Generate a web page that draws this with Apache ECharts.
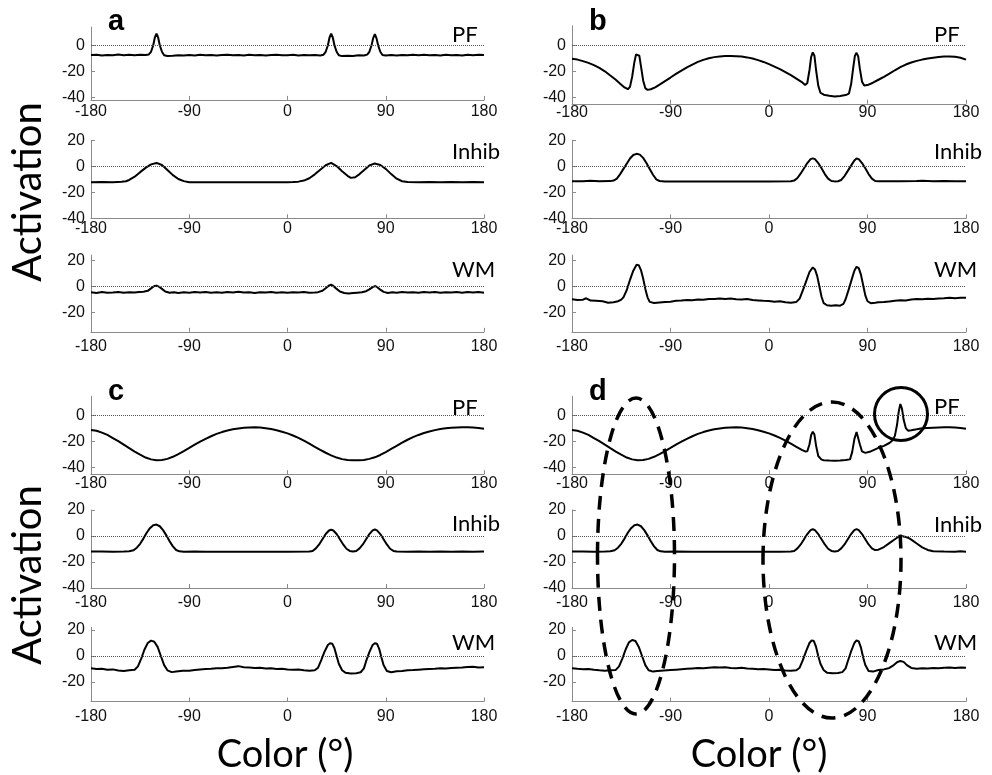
<!DOCTYPE html>
<html>
<head>
<meta charset="utf-8">
<script src="https://cdn.jsdelivr.net/npm/echarts@6.0.0/dist/echarts.min.js"></script>
<style>
  html, body { margin: 0; padding: 0; background: #fff; }
  #main { width: 992px; height: 775px; }
</style>
</head>
<body>
<div id="main"></div>
<script>
// tick labels
const xTicks = [-180, -90, 0, 90, 180];
const pfTicks = [-40, -20, 0];
const inhibTicks = [-40, -20, 0, 20];
const wmTicks = [-20, 0, 20];

// panel a
const aPF = [[-180,-7.5],[-175,-7.2],[-170,-7.8],[-165,-7.4],[-160,-7.6],[-155,-7.1],[-150,-7.7],[-145,-7.3],[-140,-7.6],[-135,-7.2],[-130,-7.4],[-127,-7.0],[-125,-5],[-123,0],[-121.5,6],[-120,9],[-118.5,6],[-117,0],[-115,-5],[-113,-7.6],[-110,-8.2],[-105,-8.0],[-100,-7.6],[-95,-7.9],[-90,-7.5],[-85,-7.8],[-80,-7.3],[-75,-7.7],[-70,-7.4],[-65,-7.9],[-60,-7.5],[-55,-7.2],[-50,-7.7],[-45,-7.4],[-40,-7.8],[-35,-7.3],[-30,-7.6],[-25,-7.4],[-20,-7.8],[-15,-7.5],[-10,-7.2],[-5,-7.7],[0,-7.6],[5,-7.3],[10,-7.8],[15,-7.5],[20,-7.7],[25,-7.4],[30,-7.8],[33,-7.2],[35,-5],[37,0],[38.5,6],[40,9],[41.5,6],[43,0],[45,-5],[47,-7.6],[50,-8.3],[55,-8.0],[60,-8.2],[65,-7.7],[70,-7.9],[73,-7.2],[75,-5],[77,0],[78.5,5.5],[80,8.5],[81.5,5.5],[83,0],[85,-5],[87,-7.5],[90,-7.9],[95,-7.5],[100,-7.8],[105,-7.4],[110,-7.7],[115,-7.3],[120,-7.6],[125,-7.2],[130,-7.7],[135,-7.5],[140,-7.8],[145,-7.3],[150,-7.6],[155,-7.4],[160,-7.9],[165,-7.3],[170,-7.6],[175,-7.2],[180,-7.5]];
const aInhib = [[-180,-12.2],[-170,-12.1],[-160,-12.2],[-152,-11.9],[-148,-11.5],[-145,-10.5],[-140,-8],[-135,-4.5],[-130,-1.2],[-125,1.5],[-120,2.6],[-115,1],[-110,-2.8],[-105,-6.8],[-100,-9.8],[-95,-11.4],[-90,-12.2],[-80,-12.3],[-70,-12.3],[-60,-12.3],[-50,-12.3],[-40,-12.3],[-30,-12.3],[-20,-12.3],[-10,-12.3],[0,-12.3],[5,-12.1],[10,-11.8],[15,-11],[20,-9.2],[25,-6.2],[30,-2.6],[35,0.8],[40,2.6],[45,0.2],[50,-3.8],[55,-7.3],[58,-8.9],[62,-8.4],[66,-6],[70,-3],[75,0.6],[80,2.2],[85,1],[90,-2],[95,-6],[100,-9.5],[105,-11.5],[110,-12.1],[120,-12.3],[130,-12.1],[140,-12.3],[150,-12.1],[160,-12.3],[170,-12.1],[180,-12.3]];
const aWM = [[-180,-4.6],[-175,-5.1],[-170,-4.4],[-165,-5],[-160,-4.7],[-155,-4.3],[-150,-4.9],[-145,-4.5],[-140,-4.8],[-136,-4.4],[-132,-4.2],[-128,-3.5],[-125,-1.6],[-122,0.2],[-120,0.5],[-118,-0.2],[-115,-2],[-112,-4],[-108,-4.9],[-104,-4.5],[-100,-5.1],[-95,-4.6],[-90,-4.9],[-85,-4.4],[-80,-4.8],[-75,-4.3],[-70,-4.9],[-65,-4.5],[-60,-5],[-55,-4.4],[-50,-4.7],[-45,-4.2],[-40,-4.8],[-35,-4.5],[-30,-5.1],[-25,-4.6],[-20,-4.8],[-15,-4.3],[-10,-4.9],[-5,-4.6],[0,-5],[5,-4.5],[10,-4.8],[15,-4.4],[20,-5],[25,-4.7],[28,-4.5],[32,-3.4],[35,-1.5],[38,0.7],[40,1.2],[42,0.3],[45,-2],[48,-4],[52,-5.1],[56,-5.5],[60,-5.2],[64,-4.9],[68,-4.6],[72,-3.8],[75,-2.4],[78,-0.6],[80,0.2],[82,-0.5],[85,-2.6],[88,-4.3],[92,-5.1],[96,-4.6],[100,-5],[105,-4.4],[110,-4.8],[115,-4.5],[120,-5],[125,-4.4],[130,-4.7],[135,-4.3],[140,-4.9],[145,-4.5],[150,-4.8],[155,-4.3],[160,-4.9],[165,-4.4],[170,-4.8],[175,-4.3],[180,-4.9]];

// panel b
const bPF = [[-180,-10.3],[-175,-11],[-170,-12.2],[-165,-13.5],[-160,-15.2],[-155,-17.4],[-150,-20],[-145,-23.2],[-140,-26.5],[-136,-29.5],[-132,-32.4],[-129,-33.8],[-127,-32],[-125,-24],[-123,-13],[-121.5,-7],[-120,-5.8],[-118.5,-8],[-117,-16],[-115,-27],[-113,-33],[-111,-34.3],[-108,-33.8],[-104,-32.3],[-100,-30.2],[-95,-27.5],[-90,-24.8],[-85,-22],[-80,-19.5],[-75,-17],[-70,-14.8],[-65,-12.8],[-60,-11.2],[-55,-10],[-50,-9.1],[-45,-8.6],[-40,-8.3],[-35,-8.2],[-30,-8.4],[-25,-8.7],[-20,-9.3],[-15,-10.2],[-10,-11.4],[-5,-12.8],[0,-14.5],[5,-16.4],[10,-18.4],[15,-20.6],[20,-23],[25,-25.6],[30,-28.3],[33,-30.5],[35,-29],[37,-19],[38.5,-9],[40,-5.5],[41.5,-8],[43,-19],[45,-31],[47,-36.5],[50,-38],[55,-38.8],[60,-39.4],[65,-39],[70,-38.3],[73,-37.2],[75,-30],[77,-17],[78.5,-8],[80,-5.8],[81.5,-8.5],[83,-18],[85,-28],[87,-31],[90,-30.6],[95,-28.8],[100,-26.5],[105,-24.2],[110,-21.8],[115,-19.2],[120,-16.8],[125,-14.8],[130,-13.2],[135,-12],[140,-11],[145,-10.2],[150,-9.5],[155,-9],[160,-8.7],[165,-8.6],[170,-8.8],[175,-9.6],[180,-11]];
const bInhib = [[-180,-11.5],[-170,-11.5],[-163,-11.2],[-155,-11.5],[-145,-11.4],[-142,-11],[-139,-9.5],[-136,-6],[-133,-2],[-130,2],[-127,6],[-124,8.7],[-121,9.6],[-118,9],[-115,6.5],[-112,2.5],[-109,-2],[-106,-6.5],[-103,-10],[-100,-11.3],[-95,-11.6],[-80,-11.6],[-60,-11.6],[-40,-11.6],[-20,-11.6],[0,-11.6],[20,-11.5],[23,-11],[26,-9],[29,-5.5],[32,-1.5],[35,2.5],[38,5.5],[40,6.1],[42,5.5],[45,2.5],[48,-1.5],[51,-6],[54,-9.5],[57,-11.3],[60,-11.6],[63,-11.5],[66,-10.5],[69,-7.5],[72,-3.5],[75,0.5],[78,4.5],[80,6],[82,5.5],[85,2.5],[88,-1.5],[91,-6],[94,-9.5],[97,-11.3],[100,-11.5],[120,-11.5],[135,-11.4],[140,-11.2],[150,-11.5],[160,-11.4],[170,-11.5],[180,-11.5]];
const bWM = [[-180,-10],[-175,-10.6],[-170,-10.3],[-167,-9.2],[-163,-11],[-158,-11.2],[-152,-11.5],[-147,-12.6],[-142,-12.2],[-138,-11.5],[-135,-10.3],[-133,-8.5],[-130,-3],[-127,5],[-124,12],[-121,16.5],[-119,16.2],[-117,12.5],[-115,6],[-113,-2],[-111,-8.5],[-109,-12],[-105,-12.8],[-100,-12.4],[-95,-12],[-90,-11.8],[-85,-11.2],[-80,-10.9],[-75,-10.5],[-70,-10.8],[-65,-10.2],[-60,-10.4],[-55,-9.7],[-50,-9.8],[-45,-9.4],[-40,-9.7],[-35,-9.3],[-30,-9.9],[-25,-10.2],[-20,-9.8],[-15,-10.6],[-10,-10.9],[-5,-11.2],[0,-11.4],[5,-11.8],[10,-11.5],[15,-12.2],[20,-12.6],[25,-12],[28,-9.5],[31,-3],[34,4],[37,11],[40,14.5],[42,13],[44,8],[46,0],[48,-8],[50,-13],[53,-14.6],[57,-15],[61,-14.6],[65,-14.9],[68,-13.5],[70,-10],[73,-2],[76,6.5],[78,12],[80,15],[82,14],[84,9],[86,1],[88,-7],[90,-11.5],[93,-13],[97,-12.6],[100,-12.2],[105,-12],[110,-11.6],[115,-11.2],[120,-10.8],[125,-10.9],[130,-10.2],[135,-9.8],[140,-10],[145,-9.5],[150,-9.7],[155,-9.3],[160,-9.1],[165,-8.8],[170,-9.2],[175,-8.8],[180,-8.9]];

// panel c
const cPF = [[-180,-11],[-175,-11.6],[-170,-13],[-165,-14.8],[-160,-17.2],[-155,-19.6],[-150,-22.3],[-145,-25],[-140,-27.6],[-135,-30],[-130,-32.2],[-125,-33.6],[-120,-34.2],[-115,-34.1],[-110,-33.2],[-105,-31.6],[-100,-29.5],[-95,-27.2],[-90,-24.8],[-85,-22.3],[-80,-20],[-75,-17.8],[-70,-15.8],[-65,-14],[-60,-12.6],[-55,-11.4],[-50,-10.5],[-45,-9.8],[-40,-9.3],[-35,-9],[-30,-8.9],[-25,-9.1],[-20,-9.6],[-15,-10.3],[-10,-11.2],[-5,-12.3],[0,-13.6],[5,-15.2],[10,-17],[15,-19.2],[20,-21.5],[25,-23.9],[30,-26.3],[35,-28.5],[40,-30.5],[45,-32.2],[50,-33.4],[55,-34.1],[60,-34.3],[65,-34.3],[70,-34],[75,-33.2],[80,-32],[85,-30.2],[90,-28],[95,-25.6],[100,-23.2],[105,-20.8],[110,-18.5],[115,-16.5],[120,-14.8],[125,-13.3],[130,-12.1],[135,-11.1],[140,-10.3],[145,-9.7],[150,-9.3],[155,-9],[160,-8.8],[165,-8.8],[170,-9],[175,-9.4],[180,-10]];
const cInhib = [[-180,-12],[-170,-12],[-160,-12.1],[-150,-12],[-145,-11.8],[-141,-11],[-138,-9],[-135,-6],[-132,-2],[-129,2.5],[-126,6],[-123,8.3],[-120,8.8],[-117,7.5],[-114,4.5],[-111,0.5],[-108,-4],[-105,-8],[-102,-10.8],[-99,-11.8],[-95,-12.2],[-85,-12],[-75,-12.1],[-60,-12.1],[-40,-12.1],[-20,-12.1],[0,-12.1],[20,-12],[23,-11.5],[26,-9.5],[29,-6.5],[32,-2.5],[35,1.5],[38,4.2],[40,4.8],[42,4.2],[45,1.5],[48,-2.5],[51,-6.5],[54,-9.8],[57,-11.5],[60,-12],[63,-11.5],[66,-9.5],[69,-6.5],[72,-2.5],[75,1.5],[78,4.3],[80,5],[82,4.3],[85,1.5],[88,-2.5],[91,-6.5],[94,-9.8],[97,-11.5],[100,-12],[110,-12.1],[120,-12],[130,-12.1],[140,-12],[150,-12.1],[160,-12],[170,-12.1],[180,-12]];
const cWM = [[-180,-9.5],[-175,-10],[-170,-9.8],[-165,-10.6],[-160,-10.3],[-155,-11.2],[-150,-11.5],[-145,-11],[-140,-10.6],[-137,-8],[-134,-2],[-131,5],[-128,10],[-125,11.8],[-122,11],[-119,7],[-116,0],[-113,-7],[-110,-11],[-106,-12.4],[-102,-12],[-96,-11.4],[-90,-11.3],[-85,-10.8],[-80,-10.3],[-75,-10],[-70,-9.8],[-65,-9.4],[-60,-9.5],[-55,-9],[-50,-8.4],[-45,-7.8],[-40,-8.6],[-35,-8.8],[-30,-9.2],[-25,-9],[-20,-9.6],[-15,-9.4],[-10,-10],[-5,-9.8],[0,-10.3],[5,-10.6],[10,-10.4],[15,-11],[20,-11.3],[25,-11],[28,-9],[31,-3],[34,3.5],[37,8.5],[39,9.8],[41,9.5],[43,6],[45,0],[47,-6],[50,-11],[53,-12.8],[58,-13.4],[63,-13.2],[67,-12.5],[70,-9.5],[72,-4],[75,3],[78,8.5],[80,9.8],[82,9.4],[84,5.5],[86,-1],[88,-7],[91,-11.5],[95,-12.5],[100,-11.8],[105,-11.5],[110,-11],[115,-10.8],[120,-10.5],[125,-10.2],[130,-10],[135,-9.8],[140,-9.5],[145,-9.6],[150,-9.2],[155,-9],[160,-8.8],[165,-8.5],[170,-8.2],[175,-8.8],[180,-8.6]];

// panel d
const dPF = [[-180,-11],[-175,-11.6],[-170,-13],[-165,-14.8],[-160,-17.2],[-155,-19.6],[-150,-22.3],[-145,-25],[-140,-27.6],[-135,-30],[-130,-32.2],[-125,-33.6],[-120,-34.2],[-115,-34.1],[-110,-33.2],[-105,-31.6],[-100,-29.5],[-95,-27.2],[-90,-24.8],[-85,-22.3],[-80,-20],[-75,-17.8],[-70,-15.8],[-65,-14],[-60,-12.6],[-55,-11.4],[-50,-10.5],[-45,-9.8],[-40,-9.3],[-35,-9],[-30,-8.9],[-25,-9.1],[-20,-9.6],[-15,-10.3],[-10,-11.2],[-5,-12.3],[0,-13.6],[5,-15.2],[10,-17],[15,-19.2],[20,-21.5],[25,-23.9],[30,-26.3],[33,-27.5],[35,-27.4],[37,-22],[38.5,-15],[40,-12.3],[41.5,-14.5],[43,-23],[45,-31],[48,-33.8],[50,-34.2],[55,-34.5],[60,-34.6],[65,-34.4],[70,-34.1],[74,-33.6],[76,-28],[78,-18],[80,-12.5],[81.5,-14],[83,-22],[85,-27.5],[88,-28.6],[92,-27.8],[96,-26.3],[100,-24.8],[105,-23.2],[110,-21],[113,-18.8],[115,-15.5],[117,-7],[118.5,3],[120,9],[121.5,5.5],[123,-3],[125,-9.5],[127,-11.5],[130,-11.2],[135,-10.5],[140,-9.6],[145,-9.4],[150,-9.2],[155,-9],[160,-8.8],[165,-8.9],[170,-9.1],[175,-9.5],[180,-10]];
const dInhib = [[-180,-12],[-170,-12],[-160,-12.1],[-150,-12],[-145,-11.8],[-141,-11],[-138,-9],[-135,-6],[-132,-2],[-129,2.5],[-126,6],[-123,8.3],[-120,8.8],[-117,7.5],[-114,4.5],[-111,0.5],[-108,-4],[-105,-8],[-102,-10.8],[-99,-11.8],[-95,-12.2],[-85,-12],[-70,-12.1],[-50,-12.1],[-30,-12.1],[-10,-12.1],[10,-12.1],[20,-12],[23,-11.5],[26,-9.5],[29,-6.5],[32,-2.5],[35,1.5],[38,4.5],[40,5.2],[42,4.5],[45,1.5],[48,-2.5],[51,-6.5],[54,-9.8],[57,-11.5],[60,-12],[63,-11.5],[66,-9.5],[69,-6.5],[72,-2.5],[75,1.5],[78,4.5],[80,5.3],[82,4.5],[85,1.5],[88,-2.5],[91,-6.5],[94,-9.5],[97,-10.8],[100,-10.5],[105,-8.5],[110,-5.5],[115,-2.5],[118,-0.8],[121,0],[124,-0.5],[127,-1.3],[130,-2.8],[135,-5.8],[140,-8.7],[145,-10.7],[150,-11.8],[160,-12],[170,-12.1],[175,-11.8],[180,-12.1]];
const dWM = [[-180,-9.5],[-175,-9.9],[-170,-10.2],[-165,-10],[-160,-10.6],[-155,-11],[-150,-11.3],[-145,-11],[-140,-10.7],[-137,-8],[-134,-2],[-131,5],[-128,10.5],[-125,12.3],[-122,11.5],[-119,7],[-116,0],[-113,-7],[-110,-11],[-106,-12],[-102,-11.6],[-96,-11.2],[-90,-10.8],[-85,-10.5],[-80,-10.2],[-75,-9.9],[-70,-9.6],[-65,-9.3],[-60,-9.4],[-55,-9],[-50,-8.6],[-45,-8.9],[-40,-8.7],[-35,-9.2],[-30,-9.4],[-25,-9.1],[-20,-9.7],[-15,-9.8],[-10,-10.1],[-5,-10],[0,-10.4],[5,-10.8],[10,-10.6],[15,-11.1],[20,-11.3],[25,-11],[28,-9],[31,-3],[34,4],[37,10],[39,12],[41,11.5],[43,7],[45,0],[47,-6],[50,-11],[53,-12.8],[58,-13.3],[63,-13.1],[67,-12.4],[70,-9.5],[72,-4],[75,3.5],[78,10],[80,12],[82,11.2],[84,6.5],[86,-1],[88,-7],[91,-11.5],[95,-12],[100,-10.8],[105,-10.3],[110,-9.2],[114,-7],[117,-4.8],[120,-3.8],[123,-4.5],[126,-7],[130,-9.2],[135,-9.8],[140,-9.5],[145,-9.7],[150,-9.3],[155,-9.4],[160,-9.1],[165,-8.9],[170,-9.2],[175,-8.8],[180,-9]];

const panels = [
  { data: aPF,    col: 0, zeroY: 45.3,  yMin: -42, yMax: 14, ticks: pfTicks,    name: 'PF',    nameY: 36,  xm: 4, letter: 'a' },
  { data: aInhib, col: 0, zeroY: 166.3, yMin: -40, yMax: 20, ticks: inhibTicks, name: 'Inhib', nameY: 153, xm: 2 },
  { data: aWM,    col: 0, zeroY: 286.3, yMin: -35, yMax: 24, ticks: wmTicks,    name: 'WM',    nameY: 271, xm: 7 },
  { data: bPF,    col: 1, zeroY: 45.3,  yMin: -45, yMax: 15, ticks: pfTicks,    name: 'PF',    nameY: 36,  xm: 1, letter: 'b' },
  { data: bInhib, col: 1, zeroY: 166.3, yMin: -40, yMax: 20, ticks: inhibTicks, name: 'Inhib', nameY: 153, xm: 2 },
  { data: bWM,    col: 1, zeroY: 286.3, yMin: -35, yMax: 24, ticks: wmTicks,    name: 'WM',    nameY: 271, xm: 7 },
  { data: cPF,    col: 0, zeroY: 415.7, yMin: -45, yMax: 15, ticks: pfTicks,    name: 'PF',    nameY: 409, xm: 1, letter: 'c' },
  { data: cInhib, col: 0, zeroY: 536,   yMin: -40, yMax: 20, ticks: inhibTicks, name: 'Inhib', nameY: 525, xm: 7 },
  { data: cWM,    col: 0, zeroY: 656,   yMin: -35, yMax: 22, ticks: wmTicks,    name: 'WM',    nameY: 644, xm: 7 },
  { data: dPF,    col: 1, zeroY: 415.7, yMin: -45, yMax: 15, ticks: pfTicks,    name: 'PF',    nameY: 408, xm: 1, letter: 'd' },
  { data: dInhib, col: 1, zeroY: 536,   yMin: -40, yMax: 20, ticks: inhibTicks, name: 'Inhib', nameY: 526, xm: 7 },
  { data: dWM,    col: 1, zeroY: 656,   yMin: -35, yMax: 22, ticks: wmTicks,    name: 'WM',    nameY: 644, xm: 7 }
];

const colLeft = [91, 572];
const colWidth = [393, 394];
const pxPerUnit = 1.3;
const axisGrey = '#8a8a8a';

let grids = [], xAxes = [], yAxes = [], series = [], graphics = [];

panels.forEach((p, i) => {
  grids.push({
    left: colLeft[p.col],
    width: colWidth[p.col],
    top: p.zeroY - p.yMax * pxPerUnit,
    height: (p.yMax - p.yMin) * pxPerUnit
  });
  xAxes.push({
    gridIndex: i, type: 'value', min: -180, max: 180, interval: 90,
    axisLine: { onZero: false, lineStyle: { color: axisGrey, width: 1 } },
    axisTick: { inside: true, length: 4, lineStyle: { color: axisGrey } },
    axisLabel: { fontSize: 16, color: '#111', fontFamily: 'Arial', margin: p.xm,
                 customValues: xTicks },
    splitLine: { show: false }
  });
  yAxes.push({
    gridIndex: i, type: 'value', min: p.yMin, max: p.yMax,
    axisLine: { show: true, onZero: false, lineStyle: { color: axisGrey, width: 1 } },
    axisTick: { show: true, inside: true, length: 4, customValues: p.ticks, lineStyle: { color: axisGrey } },
    axisLabel: { fontSize: 16, color: '#111', fontFamily: 'Arial', margin: 6,
                 customValues: p.ticks },
    splitLine: { show: false }
  });
  series.push({
    type: 'line', xAxisIndex: i, yAxisIndex: i, data: p.data,
    showSymbol: false, silent: true,
    lineStyle: { color: '#000', width: 2 },
    markLine: {
      silent: true, symbol: ['none', 'none'], label: { show: false },
      lineStyle: { type: 'dotted', color: '#555', width: 1 },
      data: [{ yAxis: 0 }]
    }
  });
  graphics.push({
    type: 'text', left: colLeft[p.col] + colWidth[p.col] - 32, top: p.nameY - 12,
    style: { text: p.name, fontSize: 22, fontFamily: 'Lato', fill: '#000' }
  });
  if (p.letter) {
    graphics.push({
      type: 'text', left: colLeft[p.col] + 17, top: p.zeroY - 38,
      style: { text: p.letter, fontSize: 29, fontWeight: 'bold', fontFamily: 'Arial', fill: '#000' }
    });
  }
});

// big axis titles
graphics.push(
  { type: 'text', x: 28, y: 192, rotation: Math.PI / 2,
    style: { text: 'Activation', fontSize: 40, fontFamily: 'Lato', fill: '#000',
             textAlign: 'center', textVerticalAlign: 'middle' } },
  { type: 'text', x: 28, y: 575, rotation: Math.PI / 2,
    style: { text: 'Activation', fontSize: 40, fontFamily: 'Lato', fill: '#000',
             textAlign: 'center', textVerticalAlign: 'middle' } },
  { type: 'text', x: 285, y: 755,
    style: { text: 'Color (°)', fontSize: 38, fontFamily: 'Lato', fill: '#000',
             textAlign: 'center', textVerticalAlign: 'middle' } },
  { type: 'text', x: 759, y: 755,
    style: { text: 'Color (°)', fontSize: 38, fontFamily: 'Lato', fill: '#000',
             textAlign: 'center', textVerticalAlign: 'middle' } }
);

// annotations in panel d
graphics.push(
  { type: 'ellipse', z: 100, shape: { cx: 636, cy: 556, rx: 38.5, ry: 158 },
    style: { fill: 'none', stroke: '#000', lineWidth: 3.5, lineDash: [14, 9] } },
  { type: 'ellipse', z: 100, shape: { cx: 832, cy: 560, rx: 69, ry: 158 },
    style: { fill: 'none', stroke: '#000', lineWidth: 3.5, lineDash: [14, 9] } },
  { type: 'circle', z: 100, shape: { cx: 901, cy: 414, r: 26.5 },
    style: { fill: 'none', stroke: '#000', lineWidth: 3 } }
);

const chart = echarts.init(document.getElementById('main'), null, { renderer: 'canvas' });
chart.setOption({
  animation: false,
  backgroundColor: '#fff',
  grid: grids,
  xAxis: xAxes,
  yAxis: yAxes,
  series: series,
  graphic: graphics
});
</script>
</body>
</html>
